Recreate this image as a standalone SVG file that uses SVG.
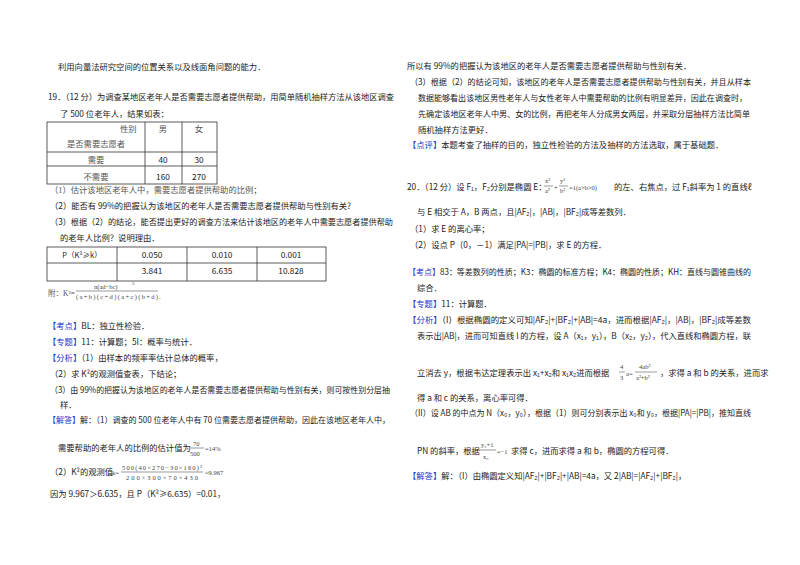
<svg xmlns="http://www.w3.org/2000/svg" width="800" height="565" viewBox="0 0 800 565">
<style>
text{font-family:"Noto Sans CJK SC","Liberation Sans",sans-serif;font-size:8.3px;fill:#222}
.b{fill:#2233cc}
.s{font-family:"Liberation Serif","Noto Sans CJK SC",serif;fill:#555}
.f{font-family:"Liberation Serif",serif;font-size:6.5px;fill:#444}
.t{fill:none;stroke:#333;stroke-width:0.8}
.c{text-anchor:middle}
.l{stroke:#555;stroke-width:0.6}
</style>
<rect width="800" height="565" fill="#fff"/>
<g id="left">
<text x="58" y="70">利用向量法研究空间的位置关系以及线面角问题的能力．</text>
<text x="48" y="100" textLength="346" lengthAdjust="spacingAndGlyphs">19．（12 分）为调查某地区老年人是否需要志愿者提供帮助，用简单随机抽样方法从该地区调查</text>
<text x="60" y="117">了 500 位老年人，结果如表：</text>
<g id="table1">
<rect class="t" x="47" y="122" width="170" height="62"/>
<line class="t" x1="47" y1="152" x2="217" y2="152"/>
<line class="t" x1="47" y1="166" x2="217" y2="166"/>
<line class="t" x1="145" y1="122" x2="145" y2="184"/>
<line class="t" x1="182" y1="122" x2="182" y2="184"/>
<text class="s" x="120" y="132">性别</text>
<text class="s" x="67" y="147">是否需要志愿者</text>
<text class="s c" x="163" y="132">男</text>
<text class="s c" x="199" y="132">女</text>
<text class="s c" x="96" y="163">需要</text>
<text class="c" x="163" y="163">40</text>
<text class="c" x="199" y="163">30</text>
<text class="s c" x="96" y="180">不需要</text>
<text class="c" x="163" y="180">160</text>
<text class="c" x="199" y="180">270</text>
</g>
<text class="s" x="50" y="193">（1）估计该地区老年人中，需要志愿者提供帮助的比例；</text>
<text x="50" y="209">（2）能否有 99%的把握认为该地区的老年人是否需要志愿者提供帮助与性别有关?</text>
<text x="50" y="225" textLength="343" lengthAdjust="spacingAndGlyphs">（3）根据（2）的结论，能否提出更好的调查方法来估计该地区的老年人中需要志愿者提供帮助</text>
<text x="60" y="241">的老年人比例？说明理由．</text>
<g id="table2">
<rect class="t" x="47" y="247" width="279" height="34"/>
<line class="t" x1="47" y1="263" x2="326" y2="263"/>
<line class="t" x1="117" y1="247" x2="117" y2="281"/>
<line class="t" x1="187" y1="247" x2="187" y2="281"/>
<line class="t" x1="257" y1="247" x2="257" y2="281"/>
<text class="c" x="82" y="258" style="font-size:7.5px">P（K²≥k）</text>
<text class="c" x="152" y="258">0.050</text>
<text class="c" x="222" y="258">0.010</text>
<text class="c" x="291" y="258">0.001</text>
<text class="c" x="152" y="274">3.841</text>
<text class="c" x="222" y="274">6.635</text>
<text class="c" x="291" y="274">10.828</text>
</g>
<text class="s" x="48" y="296" style="font-size:7.5px">附：K²=</text>
<text class="f" x="94" y="289">n(ad−bc)</text>
<text class="f" x="132" y="285" style="font-size:5px">2</text>
<line class="l" x1="76" y1="291" x2="158" y2="291"/>
<text class="f" x="76" y="299" textLength="82">(a+b)(c+d)(a+c)(b+d)</text>
<text class="f" x="159" y="299">.</text>
<text x="48" y="329"><tspan class="b">【考点】</tspan>BL：独立性检验．</text>
<text x="48" y="345"><tspan class="b">【专题】</tspan>11：计算题；5I：概率与统计．</text>
<text x="48" y="361"><tspan class="b">【分析】</tspan>（1）由样本的频率率估计总体的概率，</text>
<text x="50" y="377">（2）求 K²的观测值查表，下结论；</text>
<text x="50" y="393" textLength="340" lengthAdjust="spacingAndGlyphs">（3）由 99%的把握认为该地区的老年人是否需要志愿者提供帮助与性别有关，则可按性别分层抽</text>
<text x="60" y="408">样．</text>
<text x="48" y="423" textLength="342" lengthAdjust="spacingAndGlyphs"><tspan class="b">【解答】</tspan>解：（1）调查的 500 位老年人中有 70 位需要志愿者提供帮助，因此在该地区老年人中，</text>
<text x="58" y="451">需要帮助的老年人的比例的估计值为</text>
<text class="f" x="193" y="446">70</text>
<line class="l" x1="190" y1="448" x2="204" y2="448"/>
<text class="f" x="190" y="456">500</text>
<text class="f" x="205" y="451">=14%</text>
<text x="50" y="475">（2）K²的观测值</text>
<text class="f" x="112" y="475">k=</text>
<text class="f" x="122" y="470" textLength="80">500(40×270−30×160)²</text>
<line class="l" x1="121" y1="472" x2="203" y2="472"/>
<text class="f" x="126" y="480" textLength="72">200×300×70×430</text>
<text class="f" x="205" y="475">≈9.967</text>
<text x="50" y="497">因为 9.967＞6.635，且 P（K²≥6.635）=0.01，</text>
</g>
<g id="right">
<text x="407" y="69">所以有 99%的把握认为该地区的老年人是否需要志愿者提供帮助与性别有关．</text>
<text x="410" y="85" textLength="341" lengthAdjust="spacingAndGlyphs">（3）根据（2）的结论可知，该地区的老年人是否需要志愿者提供帮助与性别有关，并且从样本</text>
<text x="418" y="101" textLength="329" lengthAdjust="spacingAndGlyphs">数据能够看出该地区男性老年人与女性老年人中需要帮助的比例有明显差异，因此在调查时，</text>
<text x="418" y="117" textLength="332" lengthAdjust="spacingAndGlyphs">先确定该地区老年人中男、女的比例，再把老年人分成男女两层，并采取分层抽样方法比简单</text>
<text x="418" y="133">随机抽样方法更好．</text>
<text x="408" y="148"><tspan class="b">【点评】</tspan>本题考查了抽样的目的，独立性检验的方法及抽样的方法选取，属于基础题．</text>
<text x="407" y="190">20．（12 分）设 F₁，F₂分别是椭圆 E：</text>
<text class="f" x="545" y="183">x²</text>
<line class="l" x1="544" y1="186" x2="553" y2="186"/>
<text class="f" x="545" y="193">a²</text>
<text class="f" x="554" y="190">+</text>
<text class="f" x="560" y="183">y²</text>
<line class="l" x1="559" y1="186" x2="568" y2="186"/>
<text class="f" x="560" y="193">b²</text>
<text class="f" x="569" y="190">=1(a&gt;b&gt;0)</text>
<text x="614" y="190">的左、右焦点，过 F₁斜率为 1 的直线ℓ</text>
<text x="417" y="215">与 E 相交于 A，B 两点，且|AF₂|，|AB|，|BF₂|成等差数列．</text>
<text x="410" y="232">（1）求 E 的离心率；</text>
<text x="410" y="248">（2）设点 P（0，－1）满足|PA|=|PB|，求 E 的方程．</text>
<text x="408" y="275" textLength="343" lengthAdjust="spacingAndGlyphs"><tspan class="b">【考点】</tspan>83：等差数列的性质；K3：椭圆的标准方程；K4：椭圆的性质；KH：直线与圆锥曲线的</text>
<text x="417" y="291">综合．</text>
<text x="408" y="307"><tspan class="b">【专题】</tspan>11：计算题．</text>
<text x="408" y="323" textLength="343" lengthAdjust="spacingAndGlyphs"><tspan class="b">【分析】</tspan>（I）根据椭圆的定义可知|AF₂|+|BF₂|+|AB|=4a，进而根据|AF₂|，|AB|，|BF₂|成等差数</text>
<text x="417" y="339" textLength="334" lengthAdjust="spacingAndGlyphs">表示出|AB|，进而可知直线 l 的方程，设 A（x₁，y₁），B（x₂，y₂），代入直线和椭圆方程，联</text>
<text x="417" y="376">立消去 y，根据韦达定理表示出 x₁+x₂和 x₁x₂进而根据</text>
<text class="f" x="620" y="369">4</text>
<line class="l" x1="619" y1="372" x2="625" y2="372"/>
<text class="f" x="620" y="380">3</text>
<text class="f" x="626" y="376">a=</text>
<text class="f" x="639" y="369">4ab²</text>
<line class="l" x1="635" y1="372" x2="657" y2="372"/>
<text class="f" x="636" y="380">a²+b²</text>
<text x="660" y="376">，求得 a 和 b 的关系，进而求</text>
<text x="417" y="401">得 a 和 c 的关系，离心率可得．</text>
<text x="410" y="416" textLength="341" lengthAdjust="spacingAndGlyphs">（II）设 AB 的中点为 N（x₀，y₀），根据（1）则可分别表示出 x₀和 y₀，根据|PA|=|PB|，推知直线</text>
<text x="417" y="454">PN 的斜率，根据</text>
<text class="f" x="481" y="447">y₀+1</text>
<line class="l" x1="479" y1="450" x2="496" y2="450"/>
<text class="f" x="483" y="459">x₀</text>
<text class="f" x="497" y="454">=−1</text>
<text x="511" y="454">求得 c，进而求得 a 和 b，椭圆的方程可得．</text>
<text x="408" y="479"><tspan class="b">【解答】</tspan>解：（I）由椭圆定义知|AF₂|+|BF₂|+|AB|=4a，又 2|AB|=|AF₂|+|BF₂|，</text>
</g>
</svg>
